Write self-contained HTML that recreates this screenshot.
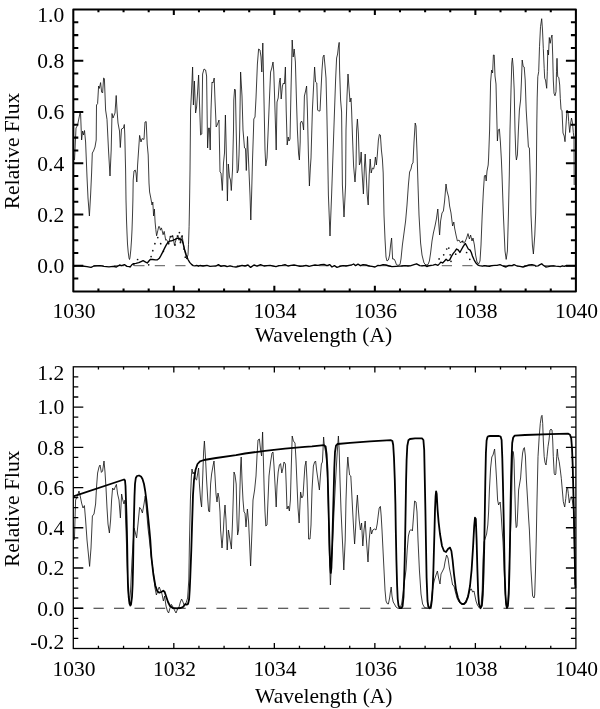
<!DOCTYPE html>
<html><head><meta charset="utf-8"><title>Relative Flux vs Wavelength</title>
<style>html,body{margin:0;padding:0;background:#fff}svg{display:block}</style></head>
<body>
<svg width="600" height="709" viewBox="0 0 600 709">
<rect width="600" height="709" fill="#fff"/>
<g id="panel1">
<path d="M72.8,265.6H575.9" stroke="#777" stroke-width="1.3" stroke-dasharray="10.2 10.3" fill="none"/>
<polyline points="74.5,160.0 76.0,128.0 77.5,125.5 80.0,113.0 80.6,114.0 81.6,140.0 82.6,131.0 83.6,135.0 84.5,130.5 85.6,142.0 87.0,177.0 88.0,198.0 89.4,216.0 90.6,195.0 91.6,173.0 92.3,153.0 93.5,151.0 95.0,147.0 96.2,140.0 96.5,105.0 97.6,103.6 98.6,86.0 99.4,88.4 100.6,82.6 101.6,92.0 102.6,93.0 103.6,78.0 104.4,78.6 105.6,110.0 107.0,119.5 108.5,150.0 110.0,176.0 111.2,150.0 112.0,113.5 113.0,118.0 115.0,113.0 116.2,95.5 117.0,110.0 118.0,123.0 119.5,131.0 120.3,147.5 121.5,129.0 123.5,128.0 124.3,124.5 124.8,135.0 125.3,158.0 125.6,170.0 126.0,200.0 126.5,220.0 127.0,233.0 127.5,244.0 128.2,252.0 129.0,258.0 129.5,259.5 130.0,257.5 130.8,250.0 131.5,240.0 132.0,230.0 132.5,215.0 132.9,200.0 133.2,180.0 134.0,171.0 135.2,170.0 136.0,173.0 136.8,182.0 137.6,165.0 139.6,135.4 141.0,142.0 142.0,138.6 144.0,139.4 145.0,122.0 146.2,121.6 147.2,144.0 148.2,155.0 149.0,183.0 149.6,192.0 150.8,198.0 152.0,205.0 152.8,202.0 153.6,216.0 154.4,209.0 155.1,222.0 155.8,229.5 156.6,235.8 157.9,230.2 158.7,226.5 159.5,226.7 160.4,230.2 161.4,227.9 162.2,230.8 163.1,234.7 164.2,231.4 164.9,235.5 165.7,240.2 166.5,239.6 167.5,241.3 168.6,244.0 169.6,239.0 170.4,236.7 171.2,236.1 171.9,237.2 172.7,235.8 173.6,240.2 174.5,245.4 175.3,242.5 176.3,238.4 177.1,237.8 178.0,235.5 178.9,240.2 179.8,237.8 180.6,243.1 181.3,236.7 182.1,235.8 182.9,240.8 183.9,246.6 185.0,252.5 186.2,256.6 187.1,257.7 188.0,254.8 188.5,244.3 189.1,226.7 189.5,205.0 190.0,171.0 190.6,110.0 191.6,90.0 192.6,67.0 193.4,105.0 194.4,81.0 195.6,113.0 196.6,107.0 197.6,92.0 198.6,75.0 199.6,106.0 200.6,135.0 201.8,134.0 202.6,74.0 204.0,69.0 205.6,70.0 206.6,76.0 207.6,148.0 208.6,128.0 209.4,128.0 210.2,150.0 211.0,110.0 212.0,82.0 213.0,83.0 214.2,78.0 215.0,100.0 216.2,127.0 217.6,124.0 219.0,120.0 219.2,130.0 220.0,172.0 221.0,173.0 222.3,190.5 223.5,163.0 224.5,153.0 225.4,115.0 226.5,160.0 227.4,201.0 228.3,164.0 229.5,177.0 230.5,180.0 231.3,190.5 232.5,170.0 233.5,130.0 233.8,100.0 234.6,89.0 235.4,90.0 236.2,130.0 237.2,173.0 238.3,170.0 239.0,155.0 239.7,130.0 240.6,72.0 242.0,96.0 243.0,130.0 244.5,148.0 245.5,148.5 246.3,170.5 247.0,150.0 247.5,136.5 248.5,160.0 250.0,195.0 250.8,220.0 251.6,195.0 252.5,160.0 253.5,130.0 253.8,119.0 255.0,117.0 256.0,98.0 257.4,64.0 258.6,49.0 260.0,50.0 261.0,57.0 261.8,72.0 262.8,43.0 263.4,70.0 264.2,110.0 265.0,150.0 265.8,166.0 267.0,158.0 268.2,130.0 269.4,100.0 270.6,72.0 271.8,68.0 273.0,62.0 273.8,72.0 275.0,110.0 276.2,150.0 277.0,102.0 278.2,98.0 279.4,82.0 280.2,78.0 281.2,99.0 282.4,86.0 283.4,83.0 284.4,84.0 285.4,67.0 286.2,110.0 287.2,145.0 288.2,137.0 289.0,141.0 290.0,139.0 291.0,90.0 292.2,40.0 293.2,57.0 294.2,49.0 295.4,62.0 296.4,98.0 297.4,130.0 298.6,154.0 299.4,160.0 300.2,142.0 300.4,123.0 301.6,121.0 302.8,124.0 303.6,130.0 304.4,96.0 305.6,91.0 306.6,86.0 307.4,110.0 308.4,154.0 309.4,186.0 310.4,167.0 311.0,158.0 312.4,110.0 313.6,86.0 314.6,67.0 315.6,82.0 316.8,83.0 317.6,110.0 318.6,111.0 320.0,111.0 321.0,90.0 322.0,70.0 323.0,57.0 324.0,55.0 325.0,66.0 326.0,78.0 326.8,110.0 327.6,150.0 328.4,195.0 330.0,236.0 331.6,195.0 333.0,154.0 334.4,114.0 335.6,80.0 336.6,58.0 337.6,54.0 338.4,47.0 339.2,42.4 339.6,70.0 340.6,100.0 341.6,112.0 342.4,185.0 344.0,217.0 345.6,185.0 346.0,130.0 347.0,96.0 348.0,74.0 349.0,88.0 350.0,102.0 351.0,98.0 351.6,110.0 352.4,134.0 353.6,166.0 355.0,182.0 356.0,167.0 356.6,130.0 357.4,119.0 358.4,134.0 359.4,165.0 360.4,162.0 361.2,152.0 362.0,171.0 363.4,194.0 364.4,167.0 365.2,154.0 366.0,171.0 367.2,195.0 368.2,205.0 369.2,175.0 370.2,159.0 371.2,173.0 372.4,168.0 373.6,169.0 374.6,165.0 375.4,157.0 376.4,165.0 377.4,154.0 378.4,140.0 379.4,134.4 380.4,135.0 381.4,150.0 382.4,159.0 383.2,173.0 384.0,215.0 385.0,239.0 386.0,257.0 387.0,261.0 388.4,260.0 389.6,255.0 390.6,245.0 391.6,238.0 392.6,259.0 394.0,259.0 395.2,261.0 396.4,264.6 398.0,265.4 400.0,264.6 401.0,259.0 402.4,245.0 404.0,233.0 405.6,221.0 407.0,205.0 408.4,185.0 409.6,172.0 411.0,169.0 412.0,164.0 413.0,163.0 414.0,142.0 415.2,123.0 416.0,126.0 417.0,152.0 418.0,185.0 419.0,215.0 420.6,243.0 422.0,255.0 424.0,263.0 426.0,265.0 428.0,264.6 429.4,261.0 430.6,253.0 432.0,241.0 433.4,233.0 435.0,226.0 436.4,219.0 437.8,209.0 438.6,221.0 439.6,235.0 440.6,221.0 442.0,213.0 443.4,211.0 444.6,201.0 446.0,184.0 447.0,191.0 448.6,197.0 449.6,206.0 451.0,213.0 452.6,226.0 453.8,222.0 454.6,228.0 456.0,235.0 457.4,241.0 459.0,240.0 460.6,243.0 462.0,241.0 463.4,243.0 465.0,242.0 466.6,238.0 468.0,233.6 469.4,239.0 470.6,235.0 472.0,241.0 473.0,238.0 474.4,245.0 475.6,255.0 477.0,262.0 478.6,264.0 480.0,261.0 481.0,245.0 482.2,215.0 483.4,191.0 484.4,176.0 485.4,175.0 486.2,181.0 487.0,171.0 488.2,165.0 488.6,158.0 489.6,130.0 490.6,82.0 491.6,70.0 492.6,73.0 493.4,55.0 494.2,55.0 495.0,76.0 496.0,84.0 496.6,110.0 497.4,141.0 498.2,130.0 499.4,129.0 500.4,142.0 501.4,160.0 502.0,175.0 503.4,215.0 505.0,251.0 506.2,259.4 507.4,251.0 508.4,215.0 509.3,175.0 510.0,130.0 511.0,90.0 511.8,63.0 512.4,58.0 513.2,67.0 514.2,90.0 515.0,130.0 515.8,154.0 516.4,160.0 517.4,155.0 518.4,130.0 519.4,110.0 520.6,100.0 521.4,82.0 522.2,60.0 523.2,66.4 524.2,67.0 525.2,80.0 526.2,110.0 527.4,130.0 528.4,147.0 529.4,148.0 530.2,175.0 531.0,215.0 532.4,245.0 533.4,254.0 534.8,235.0 535.7,213.0 536.4,170.0 536.8,123.0 537.2,98.0 537.8,76.7 538.7,71.7 539.5,46.7 540.5,26.7 541.7,18.7 542.5,30.0 543.3,48.3 544.2,68.3 544.7,78.3 545.5,80.0 546.7,88.3 547.3,71.7 547.8,50.0 548.5,55.0 549.3,37.5 550.2,43.3 551.0,38.3 552.0,35.0 552.7,55.0 553.3,80.0 554.0,93.3 555.0,95.8 556.0,91.7 556.5,71.7 557.0,58.3 557.7,76.7 558.8,77.5 559.7,85.0 560.3,98.3 561.0,109.2 562.0,110.8 563.0,133.0 564.2,136.0 565.0,141.7 566.0,125.0 567.0,110.0 568.0,111.7 568.7,121.7 569.7,132.5 570.7,123.0 571.5,118.0 572.5,123.0 573.3,132.5 574.0,138.0 574.2,185.0" fill="none" stroke="#111" stroke-width="0.82" stroke-linejoin="round"/>
<circle cx="137.6" cy="259.5" r="0.85" fill="#111"/>
<circle cx="133.9" cy="264.8" r="0.85" fill="#111"/>
<circle cx="148.7" cy="264.8" r="0.85" fill="#111"/>
<circle cx="151.1" cy="256.6" r="0.85" fill="#111"/>
<circle cx="152.8" cy="250.7" r="0.85" fill="#111"/>
<circle cx="154.9" cy="243.7" r="0.85" fill="#111"/>
<circle cx="157.8" cy="237.6" r="0.85" fill="#111"/>
<circle cx="160.7" cy="243.7" r="0.85" fill="#111"/>
<circle cx="163.4" cy="251.3" r="0.85" fill="#111"/>
<circle cx="168.6" cy="243.7" r="0.85" fill="#111"/>
<circle cx="170.4" cy="236.7" r="0.85" fill="#111"/>
<circle cx="172.4" cy="236.1" r="0.85" fill="#111"/>
<circle cx="175.1" cy="244.9" r="0.85" fill="#111"/>
<circle cx="177.4" cy="236.1" r="0.85" fill="#111"/>
<circle cx="179.4" cy="232.6" r="0.85" fill="#111"/>
<circle cx="180.4" cy="242.5" r="0.85" fill="#111"/>
<circle cx="182.1" cy="236.1" r="0.85" fill="#111"/>
<circle cx="183.9" cy="249.0" r="0.85" fill="#111"/>
<circle cx="185.3" cy="257.2" r="0.85" fill="#111"/>
<circle cx="186.8" cy="258.3" r="0.85" fill="#111"/>
<circle cx="439.1" cy="258.9" r="0.85" fill="#111"/>
<circle cx="443.7" cy="254.8" r="0.85" fill="#111"/>
<circle cx="446.7" cy="249.0" r="0.85" fill="#111"/>
<circle cx="448.8" cy="248.1" r="0.85" fill="#111"/>
<circle cx="450.2" cy="254.8" r="0.85" fill="#111"/>
<circle cx="451.0" cy="261.3" r="0.85" fill="#111"/>
<circle cx="455.7" cy="254.2" r="0.85" fill="#111"/>
<circle cx="462.7" cy="241.3" r="0.85" fill="#111"/>
<circle cx="466.6" cy="252.5" r="0.85" fill="#111"/>
<circle cx="469.8" cy="259.3" r="0.85" fill="#111"/>
<polyline points="73.4,266.4 78.0,265.6 82.0,266.0 87.0,266.6 91.0,267.4 94.0,266.0 100.0,265.6 104.0,266.4 109.0,266.8 113.0,266.4 116.4,267.0 119.6,265.0 121.6,265.6 124.4,264.6 127.0,266.4 129.6,266.6 130.0,267.1 131.8,264.8 133.5,263.6 135.9,263.4 138.8,262.7 141.1,261.6 143.1,260.7 145.2,261.8 147.3,263.0 148.7,261.3 150.5,259.3 152.8,259.5 155.2,259.8 157.5,259.8 159.3,258.3 161.0,255.4 162.8,251.9 164.5,248.4 166.3,244.9 168.1,242.2 169.8,241.0 171.6,240.8 173.3,240.2 175.1,239.4 176.8,238.4 178.6,238.4 180.4,239.2 182.1,240.2 183.3,244.3 184.4,249.0 186.2,254.8 188.0,259.5 189.7,262.4 191.5,264.4 193.2,265.6 195.0,265.9 196.7,265.4 198.5,266.2 200.0,265.5 203.0,266.0 207.0,265.4 210.0,266.4 213.0,266.2 216.0,266.0 218.4,264.6 221.0,266.4 224.0,265.6 227.0,266.6 230.0,265.8 233.0,266.6 236.0,267.0 239.0,266.4 242.0,265.4 245.0,266.0 248.0,265.0 250.6,267.4 254.0,265.0 257.0,266.2 260.6,264.6 264.0,266.0 267.0,265.6 270.0,265.4 273.0,266.0 276.0,266.6 279.0,265.6 282.0,265.4 285.0,264.6 288.0,266.0 291.0,265.4 294.0,265.0 297.0,265.6 300.0,266.4 303.0,266.2 306.0,265.4 309.0,266.4 312.0,265.6 315.0,265.0 318.0,265.4 321.0,264.6 324.0,264.4 327.0,265.6 329.6,264.6 332.0,267.0 334.4,265.6 337.0,267.4 340.0,266.4 343.0,265.6 346.0,266.0 349.0,265.4 351.6,265.0 353.6,264.0 355.6,265.6 358.0,264.2 360.4,265.6 363.0,264.6 366.0,265.0 369.0,266.0 372.0,266.4 375.0,267.0 378.0,265.4 380.0,265.6 383.0,264.6 386.0,265.0 389.0,266.0 392.0,266.6 396.0,266.4 399.0,266.2 402.0,266.0 405.0,265.6 408.0,266.0 411.0,265.6 414.0,264.6 416.6,263.8 419.8,265.6 422.0,265.8 425.0,265.4 426.8,266.5 428.5,265.9 430.9,265.4 433.2,265.1 435.5,264.4 437.9,265.4 439.6,263.6 440.8,262.1 442.6,263.0 444.3,261.3 446.1,259.3 447.8,260.7 449.6,260.1 451.3,256.6 453.1,253.6 454.9,251.3 456.6,249.0 458.4,250.1 459.9,252.5 461.5,249.5 463.1,246.6 464.6,244.3 465.4,243.5 466.6,245.7 468.3,249.0 470.1,250.1 471.3,252.5 472.4,256.0 474.2,260.1 475.9,263.0 477.7,264.8 479.4,265.7 482.4,266.2 484.7,265.6 487.1,266.2 489.4,266.3 491.7,265.6 495.0,265.4 497.0,265.4 500.0,264.6 503.0,266.0 506.0,267.0 509.0,265.4 512.0,265.6 514.0,264.6 517.0,266.0 520.0,266.4 523.0,267.0 526.0,266.0 529.0,265.0 532.0,264.6 534.8,265.4 535.8,266.2 538.0,265.8 540.0,264.7 541.7,263.8 543.3,265.3 545.8,267.0 548.3,266.7 550.8,266.2 553.3,265.8 555.8,266.2 558.3,266.3 560.3,266.7 562.5,265.8 564.2,266.3 565.8,265.8 575.0,265.8" fill="none" stroke="#000" stroke-width="1.35" stroke-linejoin="round"/>
<rect x="73.3" y="9.5" width="502.6" height="281.9" fill="none" stroke="#000" stroke-width="2.05" stroke-linejoin="round"/>
<path d="M98.43,291.4v-2.8M98.43,9.5v2.8M123.56,291.4v-2.8M123.56,9.5v2.8M148.69,291.4v-2.8M148.69,9.5v2.8M173.82,291.4v-5.6M173.82,9.5v5.6M198.95,291.4v-2.8M198.95,9.5v2.8M224.08,291.4v-2.8M224.08,9.5v2.8M249.21,291.4v-2.8M249.21,9.5v2.8M274.34,291.4v-5.6M274.34,9.5v5.6M299.47,291.4v-2.8M299.47,9.5v2.8M324.60,291.4v-2.8M324.60,9.5v2.8M349.73,291.4v-2.8M349.73,9.5v2.8M374.86,291.4v-5.6M374.86,9.5v5.6M399.99,291.4v-2.8M399.99,9.5v2.8M425.12,291.4v-2.8M425.12,9.5v2.8M450.25,291.4v-2.8M450.25,9.5v2.8M475.38,291.4v-5.6M475.38,9.5v5.6M500.51,291.4v-2.8M500.51,9.5v2.8M525.64,291.4v-2.8M525.64,9.5v2.8M550.77,291.4v-2.8M550.77,9.5v2.8M73.3,278.59h5M575.9,278.59h-5M73.3,265.77h10M575.9,265.77h-10M73.3,252.96h5M575.9,252.96h-5M73.3,240.15h5M575.9,240.15h-5M73.3,227.33h5M575.9,227.33h-5M73.3,214.52h10M575.9,214.52h-10M73.3,201.70h5M575.9,201.70h-5M73.3,188.89h5M575.9,188.89h-5M73.3,176.08h5M575.9,176.08h-5M73.3,163.26h10M575.9,163.26h-10M73.3,150.45h5M575.9,150.45h-5M73.3,137.64h5M575.9,137.64h-5M73.3,124.82h5M575.9,124.82h-5M73.3,112.01h10M575.9,112.01h-10M73.3,99.20h5M575.9,99.20h-5M73.3,86.38h5M575.9,86.38h-5M73.3,73.57h5M575.9,73.57h-5M73.3,60.75h10M575.9,60.75h-10M73.3,47.94h5M575.9,47.94h-5M73.3,35.13h5M575.9,35.13h-5M73.3,22.31h5M575.9,22.31h-5" stroke="#000" stroke-width="2.05" fill="none"/>
</g>
<g id="panel2">
<path d="M73,608.25H575.9" stroke="#111" stroke-width="0.9" stroke-dasharray="10.2 10.3" fill="none"/>
<polyline points="74.4,540.0 75.6,500.0 77.0,497.0 79.0,491.0 80.0,495.0 81.6,503.0 83.0,508.0 84.4,505.6 85.6,520.0 87.0,540.0 88.4,554.0 89.6,566.4 91.0,548.0 91.8,530.0 92.4,516.0 94.0,514.0 95.6,504.0 96.6,486.0 97.6,473.0 99.0,467.0 100.0,465.0 101.4,472.4 102.6,471.0 104.0,461.0 105.0,472.0 106.0,488.0 107.0,508.0 108.0,524.0 109.4,533.0 110.6,520.0 111.6,500.0 112.6,488.0 114.0,490.0 115.2,487.0 116.4,484.4 117.6,494.0 119.0,500.0 120.4,518.0 121.6,494.0 122.8,500.0 124.0,504.0 125.0,500.0 125.6,520.0 126.0,530.0 128.0,590.0 129.4,604.0 130.6,590.0 132.0,560.0 133.6,536.0 134.0,528.0 135.2,532.0 136.6,538.0 138.0,524.0 139.6,507.4 141.0,509.0 142.4,513.0 144.0,504.0 145.2,496.0 146.5,510.0 148.0,528.0 150.0,545.0 151.6,560.0 153.6,574.0 155.0,588.0 156.4,595.0 158.0,590.0 159.2,587.0 160.4,590.0 162.0,594.0 163.4,601.0 164.6,596.0 166.0,606.0 167.4,611.0 168.6,613.0 170.0,608.0 171.4,604.4 173.0,607.0 174.4,610.0 176.0,613.0 177.6,609.0 179.0,607.0 180.4,602.0 181.6,599.0 183.0,602.0 184.4,606.0 186.0,603.0 187.6,598.0 188.8,580.0 189.4,545.0 190.4,500.0 191.4,476.0 192.0,469.0 193.0,474.0 194.0,472.0 195.4,479.0 196.6,480.0 197.6,474.0 198.6,468.0 199.4,484.0 200.6,500.0 201.6,507.0 202.6,480.0 203.6,452.0 204.4,441.0 205.4,456.0 206.6,480.0 207.8,500.0 208.6,511.0 209.6,512.0 210.6,484.0 211.6,474.0 213.0,466.0 214.0,461.0 215.0,476.0 216.0,494.0 217.0,502.0 218.0,493.0 219.0,498.0 220.0,512.0 220.6,530.0 222.0,548.0 223.4,530.0 224.0,518.0 225.0,505.0 226.0,520.0 227.2,550.0 228.4,530.0 229.4,536.0 231.4,549.0 232.4,525.0 233.2,500.0 234.0,472.0 235.0,475.0 236.2,484.0 237.0,520.0 237.6,535.0 238.6,530.0 239.6,500.0 240.6,466.0 241.2,457.0 242.0,480.0 243.0,500.0 244.0,512.0 245.0,513.0 246.0,527.0 247.4,509.0 248.6,522.0 250.6,566.0 252.0,530.0 253.0,500.0 254.6,490.0 256.0,476.0 257.0,456.0 258.0,440.0 259.4,439.0 260.6,450.0 261.6,456.0 262.6,432.0 263.4,460.0 264.2,490.0 265.0,512.0 265.8,526.0 267.0,525.0 268.0,500.0 269.0,476.0 270.6,462.0 272.0,453.0 273.0,452.0 274.0,466.0 275.0,484.0 276.2,507.0 277.0,486.0 278.2,472.0 279.4,465.0 280.6,463.6 281.8,473.0 283.0,468.0 284.0,462.0 285.4,464.0 286.2,484.0 287.0,509.0 288.2,506.0 289.4,511.0 290.4,500.0 291.2,470.0 292.2,436.0 293.4,441.0 295.0,443.0 296.0,460.0 297.0,484.0 298.0,508.0 299.2,523.0 300.0,504.0 300.6,492.0 301.8,498.0 303.0,496.0 304.0,480.0 304.8,468.0 305.0,466.0 306.0,461.0 307.0,480.0 308.0,510.0 308.6,539.0 310.0,539.0 311.0,525.0 312.0,490.0 313.4,466.0 314.6,462.0 315.6,461.0 316.6,470.0 318.0,480.0 319.4,490.0 320.4,476.0 321.4,464.0 322.4,462.0 323.0,450.0 323.6,437.0 324.4,446.0 325.6,452.0 326.6,462.0 327.6,480.0 328.4,510.0 329.2,550.0 330.4,585.0 331.4,565.0 332.4,545.0 333.2,530.0 334.0,512.0 335.6,480.0 337.0,456.0 338.4,436.0 339.2,450.0 340.0,480.0 341.0,510.0 342.4,540.0 343.8,570.0 345.2,540.0 346.0,500.0 347.0,470.0 347.8,457.0 348.6,466.0 349.6,475.0 350.8,476.0 351.6,490.0 352.6,510.0 353.6,528.0 354.6,544.0 355.6,528.0 356.4,508.0 357.4,495.0 358.4,510.0 359.2,520.0 360.4,530.0 361.6,523.0 362.8,546.0 364.0,530.0 365.2,521.0 366.4,540.0 368.0,562.0 369.2,540.0 370.4,527.0 371.6,534.0 372.8,530.0 374.4,529.0 376.0,530.0 377.2,524.0 378.4,514.0 379.2,508.0 380.4,506.4 381.2,516.0 382.0,530.0 383.0,550.0 384.0,570.0 385.0,590.0 386.0,601.0 387.2,603.6 388.4,604.0 389.6,598.0 390.4,592.0 391.2,587.0 392.0,596.0 393.2,602.0 394.4,604.0 396.0,607.0 398.0,608.4 400.0,608.0 401.6,604.0 403.0,594.0 404.4,582.0 406.0,570.0 407.2,550.0 408.4,536.0 409.6,531.0 411.0,529.5 412.4,531.0 413.4,518.0 414.6,501.0 416.0,502.0 417.0,512.0 418.0,540.0 419.4,570.0 421.0,594.0 422.6,604.0 424.6,607.6 427.0,608.0 429.4,608.0 431.0,604.0 432.0,594.0 433.0,586.0 434.4,580.0 436.0,575.0 437.4,571.0 438.6,578.0 440.0,584.0 441.0,574.0 442.6,571.0 444.0,568.0 445.0,562.0 446.6,555.0 448.0,558.0 449.4,568.0 451.0,576.0 452.6,585.0 454.0,586.0 455.4,592.0 457.0,598.0 459.0,602.0 462.0,604.0 465.0,603.0 467.0,598.0 468.6,594.0 470.0,590.0 471.4,589.0 472.6,592.0 474.0,591.0 475.0,596.0 476.0,601.0 477.4,605.0 479.4,608.0 481.0,607.0 482.2,590.0 483.0,560.0 484.0,542.0 485.0,539.0 486.6,534.0 487.8,525.0 488.6,512.0 489.4,490.0 490.6,468.0 491.8,457.0 493.0,455.0 493.8,452.0 494.6,449.0 495.4,460.0 496.6,480.0 497.6,500.0 498.6,505.0 499.4,503.0 500.2,502.0 501.0,512.0 502.0,528.0 503.0,542.0 504.0,565.0 505.0,590.0 506.0,603.0 507.0,608.0 508.0,600.0 509.0,575.0 510.0,545.0 511.0,520.0 511.8,490.0 512.2,470.0 512.6,451.0 513.4,452.0 514.0,460.0 514.8,490.0 515.6,520.0 516.2,527.6 517.0,526.0 517.8,510.0 518.6,490.0 519.6,484.0 520.6,478.0 521.6,464.0 522.6,453.0 523.6,448.4 524.4,447.6 525.4,456.0 526.4,480.0 527.6,500.0 528.6,518.0 529.4,530.0 531.0,570.0 532.6,596.0 534.0,598.0 534.7,595.0 535.5,570.0 536.3,537.0 537.0,500.0 538.0,456.7 539.2,436.7 540.3,423.3 541.3,416.7 542.0,415.3 542.7,423.3 543.3,440.0 544.2,456.7 545.0,462.5 546.0,465.0 547.0,456.7 548.0,446.7 549.0,440.0 550.0,430.0 551.0,429.2 552.0,430.0 552.7,440.0 553.3,456.7 554.2,473.3 555.0,475.0 555.8,474.0 556.7,456.7 557.3,449.0 558.0,456.7 559.2,461.7 560.3,470.0 561.3,478.3 562.3,490.0 563.3,501.7 564.7,507.0 565.8,498.3 566.7,488.3 567.5,487.5 568.3,493.3 569.3,503.0 570.3,498.3 571.3,496.7 572.3,500.0 573.3,508.0 573.7,512.0 574.3,540.0 575.0,585.0" fill="none" stroke="#111" stroke-width="0.82" stroke-linejoin="round"/>
<polyline points="73.4,496.4 124.0,479.5 125.0,480.5 125.5,486.0 126.0,501.0 126.5,516.0 126.9,531.0 127.2,545.0 127.5,565.0 127.9,583.0 128.7,597.0 129.7,604.0 130.4,605.5 131.1,604.0 132.0,597.0 132.6,585.0 133.1,565.0 133.4,545.0 133.7,531.0 134.0,516.0 134.5,496.0 135.0,484.0 135.8,478.0 137.0,476.0 139.0,475.5 141.0,476.5 142.5,479.0 144.0,484.0 145.2,491.0 146.5,501.0 147.5,511.0 148.5,521.0 149.5,531.0 150.3,540.0 151.3,556.0 153.3,574.0 155.3,585.5 157.3,591.3 159.3,592.7 161.3,592.0 163.3,590.7 164.7,592.0 166.0,596.0 168.0,602.0 170.0,606.0 172.7,608.0 176.7,608.4 180.7,608.0 183.3,606.7 185.3,604.0 186.7,604.7 188.0,604.0 189.1,599.3 189.7,590.0 190.3,576.7 190.8,563.3 191.3,550.0 191.9,530.0 192.5,511.0 193.0,495.0 194.0,480.0 195.5,470.0 197.5,464.0 200.0,461.3 204.0,460.0 216.0,458.0 236.0,455.2 245.0,453.5 265.0,450.8 285.0,448.6 304.8,446.8 312.0,446.4 324.0,445.2 325.6,446.4 326.6,454.0 327.6,472.0 328.2,495.0 328.8,518.0 329.5,545.0 330.2,566.0 330.8,573.0 331.4,568.0 332.2,545.0 332.9,520.0 333.6,495.0 334.3,468.0 335.0,452.0 336.0,445.6 337.6,444.0 350.0,442.8 370.0,441.4 391.0,440.2 392.4,441.0 393.2,445.0 394.0,458.0 394.8,480.0 395.4,504.0 395.8,530.0 396.4,560.0 397.1,585.0 397.7,599.0 398.5,605.5 399.7,608.2 401.5,608.2 402.6,606.0 403.5,597.0 404.2,578.0 404.7,560.0 405.2,535.0 405.7,505.0 406.1,480.0 406.6,460.0 407.3,446.0 408.4,440.3 410.0,439.0 415.0,438.4 422.0,438.4 423.4,440.0 424.2,450.0 424.8,480.0 425.4,510.0 425.9,540.0 426.6,578.0 427.5,601.0 428.3,606.5 429.6,608.2 430.9,607.0 431.9,600.0 432.7,588.0 433.4,570.0 434.0,548.0 434.5,530.0 435.0,510.0 435.6,496.0 436.1,491.3 436.7,494.0 437.6,510.0 438.6,522.0 440.0,534.0 442.0,546.0 444.0,551.0 446.0,552.0 448.0,549.0 450.0,547.6 451.4,551.0 452.6,560.0 454.0,574.0 456.0,590.0 458.0,598.0 460.0,602.4 462.0,604.0 464.0,604.0 466.0,602.0 468.0,597.0 470.0,586.0 471.6,570.0 473.0,548.0 474.2,526.0 475.0,517.6 475.8,519.0 476.6,540.0 477.4,570.0 478.2,594.0 479.0,604.0 480.6,608.2 481.9,605.5 482.8,595.0 483.6,572.0 484.2,548.0 484.7,520.0 485.3,482.0 485.9,453.0 486.6,440.5 487.4,437.3 488.0,436.4 490.0,436.0 499.0,436.0 500.6,436.6 501.6,440.0 502.3,458.0 502.9,482.0 503.5,510.0 504.0,535.0 504.6,570.0 505.4,594.0 506.2,605.0 507.0,608.0 507.9,606.0 508.8,594.0 509.5,568.0 510.1,535.0 510.6,503.0 511.1,477.0 511.7,456.0 512.2,443.0 513.2,437.5 514.7,435.6 525.0,435.0 550.0,434.2 568.3,433.7 570.0,434.7 571.2,438.3 572.0,448.3 572.7,465.0 573.3,490.0 573.8,510.0 574.6,550.0 575.4,588.0" fill="none" stroke="#000" stroke-width="1.8" stroke-linejoin="round"/>
<rect x="73.3" y="366.8" width="502.6" height="281.7" fill="none" stroke="#000" stroke-width="1.3"/>
<path d="M98.43,648.5v-2.8M98.43,366.8v2.8M123.56,648.5v-2.8M123.56,366.8v2.8M148.69,648.5v-2.8M148.69,366.8v2.8M173.82,648.5v-5.6M173.82,366.8v5.6M198.95,648.5v-2.8M198.95,366.8v2.8M224.08,648.5v-2.8M224.08,366.8v2.8M249.21,648.5v-2.8M249.21,366.8v2.8M274.34,648.5v-5.6M274.34,366.8v5.6M299.47,648.5v-2.8M299.47,366.8v2.8M324.60,648.5v-2.8M324.60,366.8v2.8M349.73,648.5v-2.8M349.73,366.8v2.8M374.86,648.5v-5.6M374.86,366.8v5.6M399.99,648.5v-2.8M399.99,366.8v2.8M425.12,648.5v-2.8M425.12,366.8v2.8M450.25,648.5v-2.8M450.25,366.8v2.8M475.38,648.5v-5.6M475.38,366.8v5.6M500.51,648.5v-2.8M500.51,366.8v2.8M525.64,648.5v-2.8M525.64,366.8v2.8M550.77,648.5v-2.8M550.77,366.8v2.8M73.3,638.44h5M575.9,638.44h-5M73.3,628.38h5M575.9,628.38h-5M73.3,618.32h5M575.9,618.32h-5M73.3,608.26h10M575.9,608.26h-10M73.3,598.20h5M575.9,598.20h-5M73.3,588.14h5M575.9,588.14h-5M73.3,578.07h5M575.9,578.07h-5M73.3,568.01h10M575.9,568.01h-10M73.3,557.95h5M575.9,557.95h-5M73.3,547.89h5M575.9,547.89h-5M73.3,537.83h5M575.9,537.83h-5M73.3,527.77h10M575.9,527.77h-10M73.3,517.71h5M575.9,517.71h-5M73.3,507.65h5M575.9,507.65h-5M73.3,497.59h5M575.9,497.59h-5M73.3,487.53h10M575.9,487.53h-10M73.3,477.47h5M575.9,477.47h-5M73.3,467.41h5M575.9,467.41h-5M73.3,457.35h5M575.9,457.35h-5M73.3,447.29h10M575.9,447.29h-10M73.3,437.22h5M575.9,437.22h-5M73.3,427.16h5M575.9,427.16h-5M73.3,417.10h5M575.9,417.10h-5M73.3,407.04h10M575.9,407.04h-10M73.3,396.98h5M575.9,396.98h-5M73.3,386.92h5M575.9,386.92h-5M73.3,376.86h5M575.9,376.86h-5" stroke="#000" stroke-width="1.3" fill="none"/>
</g>
<g font-family="'Liberation Serif', serif" font-size="21.5" fill="#000">
<text x="64.2" y="22.4" text-anchor="end">1.0</text>
<text x="64.2" y="68.1" text-anchor="end">0.8</text>
<text x="64.2" y="119.3" text-anchor="end">0.6</text>
<text x="64.2" y="170.6" text-anchor="end">0.4</text>
<text x="64.2" y="221.8" text-anchor="end">0.2</text>
<text x="64.2" y="273.1" text-anchor="end">0.0</text>
<text x="64.2" y="380.0" text-anchor="end">1.2</text>
<text x="64.2" y="414.3" text-anchor="end">1.0</text>
<text x="64.2" y="454.6" text-anchor="end">0.8</text>
<text x="64.2" y="494.8" text-anchor="end">0.6</text>
<text x="64.2" y="535.1" text-anchor="end">0.4</text>
<text x="64.2" y="575.3" text-anchor="end">0.2</text>
<text x="64.2" y="615.6" text-anchor="end">0.0</text>
<text x="64.2" y="648.8" text-anchor="end">-0.2</text>
<text x="73.9" y="318.2" text-anchor="middle">1030</text>
<text x="73.9" y="675.7" text-anchor="middle">1030</text>
<text x="174.4" y="318.2" text-anchor="middle">1032</text>
<text x="174.4" y="675.7" text-anchor="middle">1032</text>
<text x="274.9" y="318.2" text-anchor="middle">1034</text>
<text x="274.9" y="675.7" text-anchor="middle">1034</text>
<text x="375.5" y="318.2" text-anchor="middle">1036</text>
<text x="375.5" y="675.7" text-anchor="middle">1036</text>
<text x="476.0" y="318.2" text-anchor="middle">1038</text>
<text x="476.0" y="675.7" text-anchor="middle">1038</text>
<text x="576.5" y="318.2" text-anchor="middle">1040</text>
<text x="576.5" y="675.7" text-anchor="middle">1040</text>
<text x="323.4" y="341.6" text-anchor="middle">Wavelength (A)</text>
<text x="323.8" y="703.0" text-anchor="middle">Wavelength (A)</text>
<text transform="translate(19.4,151) rotate(-90)" text-anchor="middle">Relative Flux</text>
<text transform="translate(19.2,508.8) rotate(-90)" text-anchor="middle">Relative Flux</text>
</g>
</svg>
</body></html>
